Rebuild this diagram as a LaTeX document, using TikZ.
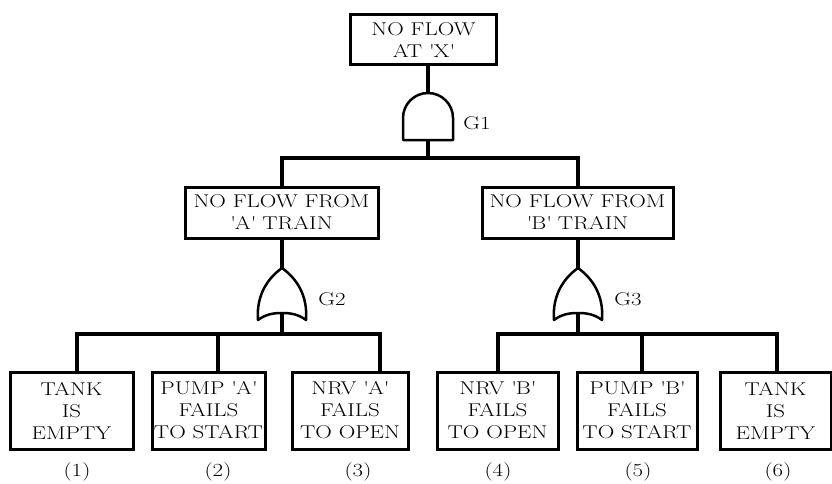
\documentclass[tikz,border=0pt]{standalone}
\usepackage{fontspec}
\setmainfont{Latin Modern Roman}[FakeStretch=1.24]
\newcommand{\tq}[1]{\textquotesingle#1\textquotesingle}

\begin{document}
\begin{tikzpicture}[x=1pt, y=-1pt,
    box/.style={draw, line width=3pt, inner sep=0pt, align=center,
        font=\fontsize{18.5}{22}\selectfont},
    conn/.style={line width=4pt},
    gate/.style={draw, line width=2.5pt, fill=white, line join=round},
    lbl/.style={font=\fontsize{18.5}{22}\selectfont}]
    \useasboundingbox (0,0) rectangle (832,484);

    % events
    \node[box, minimum width=146pt, minimum height=50pt] (top) at (423.5,40) {NO FLOW\\AT \tq{X}};
    \node[box, minimum width=193pt, minimum height=51pt] (midA) at (281.5,212.5) {NO FLOW FROM\\\tq{A} TRAIN};
    \node[box, minimum width=191pt, minimum height=51pt] (midB) at (577.5,212.5) {NO FLOW FROM\\\tq{B} TRAIN};
    \node[box, minimum width=123pt, minimum height=77pt] (b1) at (71.5,410.5) {TANK\\IS\\EMPTY};
    \node[box, minimum width=113pt, minimum height=77pt] (b2) at (208.5,410.5) {PUMP \tq{A}\\FAILS\\TO START};
    \node[box, minimum width=116pt, minimum height=77pt] (b3) at (350,410.5) {NRV \tq{A}\\FAILS\\TO OPEN};
    \node[box, minimum width=121pt, minimum height=77pt] (b4) at (497.5,410.5) {NRV \tq{B}\\FAILS\\TO OPEN};
    \node[box, minimum width=120pt, minimum height=77pt] (b5) at (637,410.5) {PUMP \tq{B}\\FAILS\\TO START};
    \node[box, minimum width=111pt, minimum height=77pt] (b6) at (775.5,410.5) {TANK\\IS\\EMPTY};

    % AND gate G1
    \coordinate (g1t) at (428,93);
    \coordinate (g1b) at (428,140);
    \coordinate (j1) at (428,158);
    \draw[conn] (top.south -| g1t) -- (g1t);
    \draw[conn] (g1b) -- (j1);
    \draw[conn] (midA.north) |- (j1) -| (midB.north);
    \draw[gate] (403,140) -- (403,118) .. controls (403,104.2) and (414.2,93) .. (428,93)
        .. controls (441.8,93) and (453,104.2) .. (453,118) -- (453,140) -- cycle;
    \node[lbl] (G1) at (477,123) {G1};

    % OR gates G2 and G3
    \foreach \x/\n in {282/2, 578/3} {
        \coordinate (g\n t) at (\x,268);
        \coordinate (g\n b) at (\x,313);
        \coordinate (j\n) at (\x,334);
        \draw[conn] (g\n b) -- (j\n);
        \draw[gate] (\x-24,320) .. controls (\x-26,295) and (\x-14,278) .. (g\n t)
            .. controls (\x+14,278) and (\x+26,295) .. (\x+24,320)
            .. controls (\x+16,314) and (\x+8,313) .. (g\n b)
            .. controls (\x-8,313) and (\x-16,314) .. (\x-24,320) -- cycle;
        \node[lbl] (G\n) at (\x+50,299) {G\n};
    }
    \draw[conn] (midA.south -| g2t) -- (g2t);
    \draw[conn] (midB.south -| g3t) -- (g3t);

    % basic events
    \draw[conn] ([xshift=5.5pt]b1.north) |- (j2) -| ([xshift=30pt]b3.north);
    \draw[conn] ([xshift=9.5pt]b2.north) -- ([xshift=9.5pt]b2.north |- j2);
    \draw[conn] ([xshift=0.5pt]b4.north) |- (j3) -| ([xshift=1.5pt]b6.north);
    \draw[conn] ([xshift=5pt]b5.north) -- ([xshift=5pt]b5.north |- j3);

    % numbers
    \node[lbl] (n1) at (77,472) {(1)};
    \node[lbl] (n2) at (218,472) {(2)};
    \node[lbl] (n3) at (358,472) {(3)};
    \node[lbl] (n4) at (498,472) {(4)};
    \node[lbl] (n5) at (638,472) {(5)};
    \node[lbl] (n6) at (778,472) {(6)};
\end{tikzpicture}
\end{document}
